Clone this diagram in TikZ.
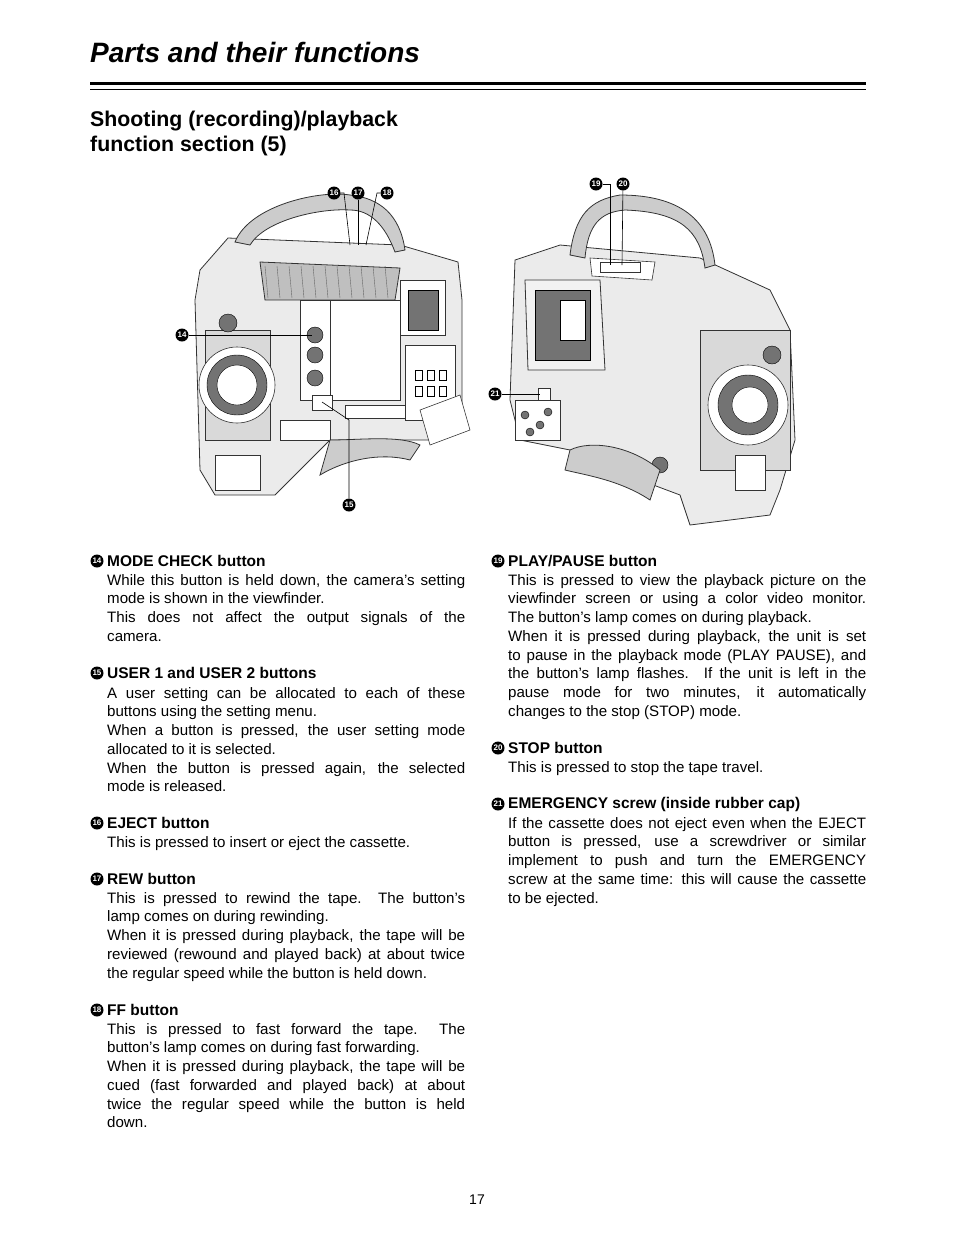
\documentclass[tikz,border=0pt]{standalone}
\usepackage{fontspec}
\setmainfont{Liberation Sans}
\hyphenpenalty=10000
\tolerance=9999
\emergencystretch=20pt
\begin{document}
\begin{tikzpicture}[x=1pt,y=-1pt,
  cnum/.style={circle,fill=black,inner sep=0,minimum size=13pt,text=white,font=\bfseries\fontsize{8}{8}\selectfont},
  head/.style={anchor=west,inner sep=0,font=\bfseries\fontsize{15.5}{18}\selectfont},
  body/.style={anchor=north west,inner sep=0,text width=358pt,align=justify,font=\fontsize{15.1}{18.75}\selectfont},
  cam/.style={draw=black!80,line width=0.8pt,fill=black!8},
  part/.style={draw=black!80,line width=0.6pt,fill=white},
  dark/.style={draw=black,fill=black!55},
  call/.style={draw=black,line width=0.6pt}]
\useasboundingbox (0,0) rectangle (954,1235);
% title
\node[anchor=base west,inner sep=0,font=\bfseries\itshape\fontsize{28}{30}\selectfont] (title) at (90,62) {Parts and their functions};
\draw[line width=3pt] (90,83) -- (866,83);
\draw[line width=0.8pt] (90,89.5) -- (866,89.5);
\node[anchor=north west,inner sep=0,align=left,font=\bfseries\fontsize{21.3}{25}\selectfont] (sub) at (90,111) {Shooting (recording)/playback\\function section (5)};

% ---------- left camera ----------
\draw[cam] (195,300) -- (200,270) -- (228,238) -- (400,245) -- (458,262) -- (462,300) -- (462,430) -- (440,440) -- (330,440) -- (300,470) -- (275,495) -- (215,495) -- (200,470) -- cycle;
\draw[cam,fill=black!20] (235,242) .. controls (250,205) and (320,190) .. (350,195) .. controls (380,198) and (400,215) .. (405,250) -- (395,252) .. controls (385,225) and (370,210) .. (350,210) .. controls (320,208) and (265,220) .. (250,245) -- cycle;
\draw[cam,fill=black!25] (260,262) -- (400,268) -- (395,300) -- (265,300) -- cycle;
\foreach \i in {0,...,10} \draw[black!60] (265+\i*12,266) -- (268+\i*12,298);
\draw[part] (400,280) rectangle (445,335);
\draw[dark] (408,290) rectangle (438,330);
\draw[part] (405,345) rectangle (455,420);
\foreach \i in {0,1,2} \foreach \j in {0,1} \draw[black] (415+\i*12,370+\j*16) rectangle +(7,10);
\draw[part] (300,300) rectangle (400,400);
\draw[part] (300,300) rectangle (330,400);
\foreach \y in {335,355,378} \draw[dark] (315,\y) circle (8);
\draw[part] (312,395) rectangle (332,410);
\draw[part] (280,420) rectangle (330,440);
\draw[part] (345,405) rectangle (405,418);
\draw[part] (420,410) -- (460,395) -- (470,430) -- (430,445) -- cycle;
\draw[cam,fill=black!15] (205,330) rectangle (270,440);
\draw[part] (237,385) circle (38);
\draw[dark] (237,385) circle (30);
\draw[fill=white] (237,385) circle (20);
\draw[dark] (228,323) circle (9);
\draw[part] (215,455) rectangle (260,490);
\draw[cam,fill=black!20] (330,440) .. controls (360,440) and (400,435) .. (420,445) -- (410,460) .. controls (380,452) and (345,460) .. (320,475) -- cycle;
\node[cnum] (c14) at (182,335) {14};
\node[cnum] (c15) at (349,505) {15};
\node[cnum] (c16) at (334,193) {16};
\node[cnum] (c17) at (358,193) {17};
\node[cnum] (c18) at (387,193) {18};
\coordinate (t14) at (312,335);
\coordinate (t15) at (322,402);
\coordinate (t16) at (350,245);
\coordinate (t17) at (358,245);
\coordinate (t18) at (366,245);
\draw[call] (c14) -- (t14);
\draw[call] (c15) -- (349,420) -- (t15);
\draw[call] (c16) -- (344,193) -- (t16);
\draw[call] (c17) -- (t17);
\draw[call] (c18) -- (377,193) -- (t18);

% ---------- right camera ----------
\draw[cam] (515,260) -- (560,245) -- (700,258) -- (770,290) -- (790,330) -- (795,440) -- (780,490) -- (770,515) -- (690,525) -- (680,495) -- (640,480) -- (600,470) -- (570,450) -- (520,440) -- (510,400) -- cycle;
\draw[cam,fill=black!20] (570,255) .. controls (575,215) and (590,200) .. (620,195) .. controls (680,195) and (710,220) .. (715,265) -- (705,268) .. controls (700,230) and (680,212) .. (625,210) .. controls (600,212) and (588,225) .. (585,258) -- cycle;
\draw[part] (590,258) -- (655,262) -- (652,280) -- (592,276) -- cycle;
\draw[part] (600,262) rectangle (640,272);
\draw[cam,fill=black!5] (525,280) -- (600,280) -- (605,370) -- (528,370) -- cycle;
\draw[dark] (535,290) rectangle (590,360);
\draw[fill=white] (560,300) rectangle (585,340);
\draw[part] (538,388) rectangle (550,400);
\draw[part] (515,400) rectangle (560,440);
\foreach \x/\y in {525/415,540/425,530/432,548/412} \draw[dark] (\x,\y) circle (4);
\draw[cam,fill=black!15] (700,330) rectangle (790,470);
\draw[part] (748,405) circle (40);
\draw[dark] (748,405) circle (30);
\draw[fill=white] (750,405) circle (18);
\draw[dark] (772,355) circle (9);
\draw[part] (735,455) rectangle (765,490);
\draw[dark] (660,465) circle (8);
\draw[cam,fill=black!20] (570,450) .. controls (590,440) and (630,445) .. (660,470) -- (650,500) .. controls (620,480) and (585,475) .. (565,470) -- cycle;
\node[cnum] (c19) at (596,184) {19};
\node[cnum] (c20) at (623,184) {20};
\node[cnum] (c21) at (495,394) {21};
\coordinate (t19) at (610,265);
\coordinate (t20) at (622,265);
\coordinate (t21) at (540,394);
\draw[call] (c19) -- (610,184) -- (t19);
\draw[call] (c20) -- (t20);
\draw[call] (c21) -- (t21);

% ---------- left column text ----------
\node[cnum] (n14) at (97,561) {14};
\node[head] (h14) at (107,561) {MODE CHECK button};
\node[body] (b14) at (107,574) {While this button is held down, the camera’s setting\linebreak mode is shown in the viewfinder.\par This does not affect the output signals of the\linebreak camera.};
\node[cnum] (n15) at (97,673) {15};
\node[head] (h15) at (107,673) {USER 1 and USER 2 buttons};
\node[body] (b15) at (107,687) {A user setting can be allocated to each of these\linebreak buttons using the setting menu.\par When a button is pressed, the user setting mode\linebreak allocated to it is selected.\par When the button is pressed again, the selected\linebreak mode is released.};
\node[cnum] (n16) at (97,823) {16};
\node[head] (h16) at (107,823) {EJECT button};
\node[body] (b16) at (107,836) {This is pressed to insert or eject the cassette.};
\node[cnum] (n17) at (97,879) {17};
\node[head] (h17) at (107,879) {REW button};
\node[body] (b17) at (107,892) {This is pressed to rewind the tape.\ \ The button’s\linebreak lamp comes on during rewinding.\par When it is pressed during playback, the tape will be\linebreak reviewed (rewound and played back) at about twice\linebreak the regular speed while the button is held down.};
\node[cnum] (n18) at (97,1010) {18};
\node[head] (h18) at (107,1010) {FF button};
\node[body] (b18) at (107,1023) {This is pressed to fast forward the tape.\ \ The\linebreak button’s lamp comes on during fast forwarding.\par When it is pressed during playback, the tape will be\linebreak cued (fast forwarded and played back) at about\linebreak twice the regular speed while the button is held\linebreak down.};

% ---------- right column text ----------
\node[cnum] (n19) at (498,561) {19};
\node[head] (h19) at (508,561) {PLAY/PAUSE button};
\node[body] (b19) at (508,574) {This is pressed to view the playback picture on the\linebreak viewfinder screen or using a color video monitor.\linebreak The button’s lamp comes on during playback.\par When it is pressed during playback, the unit is set\linebreak to pause in the playback mode (PLAY PAUSE), and\linebreak the button’s lamp flashes.\ \ If the unit is left in the\linebreak pause mode for two minutes, it automatically\linebreak changes to the stop (STOP) mode.};
\node[cnum] (n20) at (498,748) {20};
\node[head] (h20) at (508,748) {STOP button};
\node[body] (b20) at (508,761) {This is pressed to stop the tape travel.};
\node[cnum] (n21) at (498,804) {21};
\node[head] (h21) at (508,804) {EMERGENCY screw (inside rubber cap)};
\node[body] (b21) at (508,817) {If the cassette does not eject even when the EJECT\linebreak button is pressed, use a screwdriver or similar\linebreak implement to push and turn the EMERGENCY\linebreak screw at the same time: this will cause the cassette\linebreak to be ejected.};

\node[font=\fontsize{14}{16}\selectfont] (pg) at (477,1200) {17};
\end{tikzpicture}
\end{document}
